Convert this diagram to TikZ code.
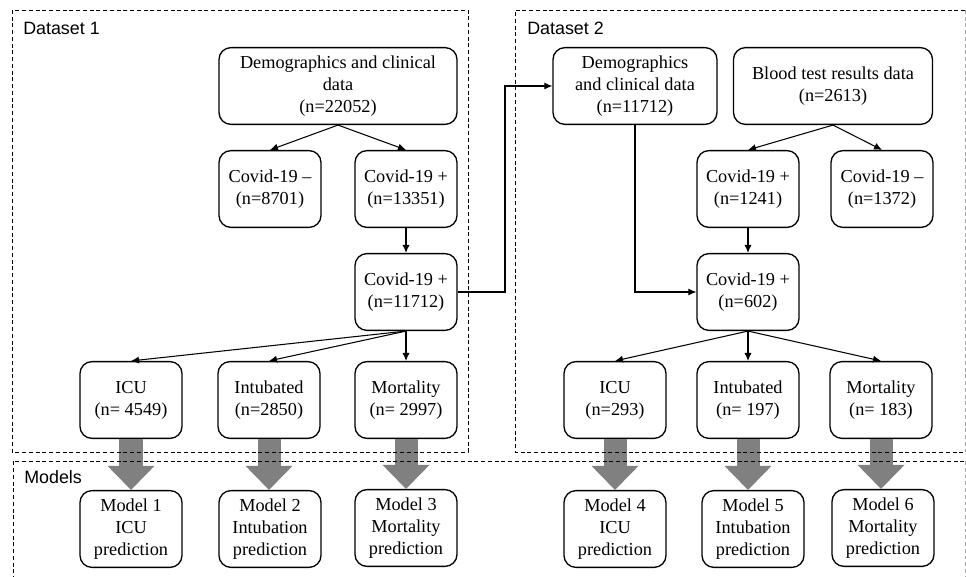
\documentclass[tikz,border=0pt]{standalone}
\usepackage{fontspec}
\setmainfont{Liberation Serif}
\newfontfamily\tagfont{Liberation Sans}
\usetikzlibrary{arrows.meta}

\begin{document}
\begin{tikzpicture}[x=0.025cm, y=-0.025cm,
    box/.style={draw, rounded corners=0.3cm, line width=0.95pt, align=center,
      inner sep=1pt, minimum width=2.55cm, minimum height=1.92cm,
      font=\fontsize{13}{15.6}\selectfont},
    link/.style={line width=0.75pt, -{Latex[length=2mm,width=1.8mm]}},
    fatarrow/.style={draw=gray, line width=0.575cm,
      -{Triangle[width=1.175cm,length=0.6cm,line width=0pt]}},
    region/.style={dash pattern=on 2.8pt off 2pt, line width=0.7pt},
    tag/.style={anchor=west, inner sep=0pt, font=\tagfont\fontsize{12.7}{14}\selectfont}]
  \useasboundingbox (0,0) rectangle (966,577);

  % Dataset 1 nodes
  \node[box, minimum width=5.95cm] (demoA) at (338,86) {Demographics and clinical\\data\\(n=22052)};
  \node[box] (negA) at (270,189) {Covid-19 –\\(n=8701)};
  \node[box] (posA) at (406,189) {Covid-19 +\\(n=13351)};
  \node[box] (posB) at (406,292) {Covid-19 +\\(n=11712)};
  \node[box] (icuA) at (131,400) {ICU\\(n= 4549)};
  \node[box] (intA) at (269,400) {Intubated\\(n=2850)};
  \node[box] (mortA) at (406,400) {Mortality\\(n= 2997)};

  % Dataset 2 nodes
  \node[box, minimum width=4.1cm] (demoB) at (635,86) {Demographics\\and clinical data\\(n=11712)};
  \node[box, minimum width=4.975cm] (bloodB) at (833,86) {Blood test results data\\(n=2613)};
  \node[box] (posC) at (748,189) {Covid-19 +\\(n=1241)};
  \node[box] (negC) at (882,189) {Covid-19 –\\(n=1372)};
  \node[box] (posD) at (748,292) {Covid-19 +\\(n=602)};
  \node[box] (icuB) at (615,400) {ICU\\(n=293)};
  \node[box] (intB) at (748,400) {Intubated\\(n= 197)};
  \node[box] (mortB) at (881,400) {Mortality\\(n= 183)};

  % Model nodes
  \node[box] (modA) at (131,529) {Model 1\\ICU\\prediction};
  \node[box] (modB) at (270,529) {Model 2\\Intubation\\prediction};
  \node[box] (modC) at (406,528) {Model 3\\Mortality\\prediction};
  \node[box] (modD) at (615,529) {Model 4\\ICU\\prediction};
  \node[box] (modE) at (753,529) {Model 5\\Intubation\\prediction};
  \node[box] (modF) at (883,528) {Model 6\\Mortality\\prediction};

  % Connectors in dataset 1
  \draw[link] (demoA.south) -- (negA.north);
  \draw[link] (demoA.south) -- (posA.north);
  \draw[link] (posA) -- (posB);
  \draw[link] (posB.south) -- (icuA.north);
  \draw[link] (posB.south) -- (intA.north);
  \draw[link] (posB) -- (mortA);

  % Link from dataset 1 to dataset 2
  \coordinate (bend) at (505,86);
  \draw[link] (posB.east) -| (bend) -- (demoB.west);

  % Connectors in dataset 2
  \draw[link] (bloodB.south) -- (posC.north);
  \draw[link] (bloodB.south) -- (negC.north);
  \draw[link] (posC) -- (posD);
  \draw[link] (demoB.south) |- (posD.west);
  \draw[link] (posD.south) -- (icuB.north);
  \draw[link] (posD) -- (intB);
  \draw[link] (posD.south) -- (mortB.north);

  % Thick arrows to the models
  \foreach \src/\dst in {icuA/modA, intA/modB, mortA/modC, icuB/modD, intB/modE, mortB/modF}
    \draw[fatarrow] (\src.south) -- (\src.south |- \dst.north);

  % Dashed regions
  \draw[region] (12,10) rectangle (468,452);
  \draw[region] (965,10) -- (515,10) -- (515,452) -- (965,452);
  \draw[region, black!35] (965,10) -- (965,452);
  \draw[region] (13,580) -- (13,461) -- (965,461);
  \draw[region, black!35] (965,461) -- (965,580);

  % Region labels
  \node[tag] (tagA) at (23,28) {Dataset 1};
  \node[tag] (tagB) at (527,28) {Dataset 2};
  \node[tag] (tagC) at (24,477) {Models};
\end{tikzpicture}
\end{document}
